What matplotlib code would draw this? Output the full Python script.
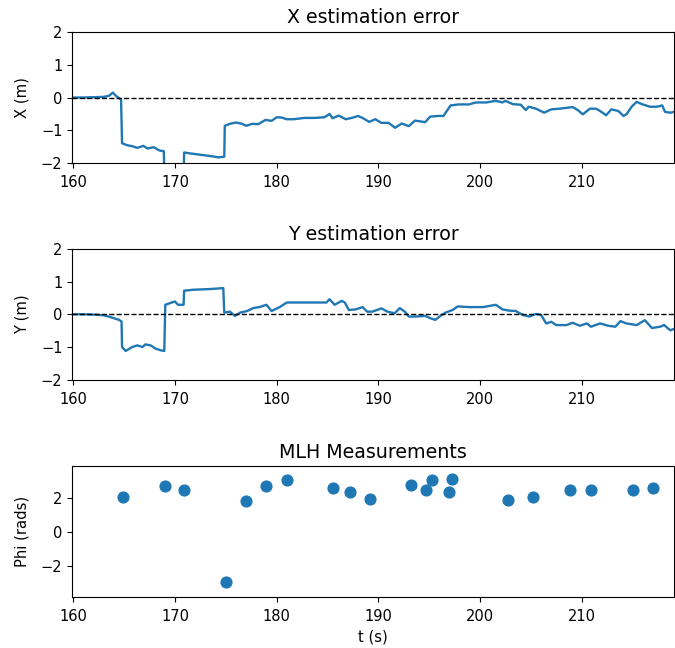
import matplotlib
matplotlib.use("Agg")
import matplotlib.pyplot as plt
import numpy as np

# X estimation error trace (time in s, error in m)
t_x = [160.0, 161.0, 162.0, 163.0, 163.5, 163.9, 164.2, 164.5, 164.7, 164.8, 165.3, 165.8, 166.3, 166.9,
       167.3, 167.9, 168.4, 168.6, 168.9, 169.0, 170.85, 170.9, 171.5, 172.5, 173.5, 174.3, 174.85, 174.9,
       175.4, 176.0, 176.6, 177.0, 177.6, 178.2, 178.9, 179.5, 180.0, 180.5, 181.0, 181.7, 182.7,
       183.7, 184.7, 185.2, 185.5, 186.1, 186.8, 187.4, 188.0, 188.5, 189.1, 189.7, 190.3, 191.0,
       191.65, 192.3, 193.0, 193.6, 194.6, 195.1, 195.9, 196.4, 197.1, 197.9, 198.9, 199.6, 200.6,
       201.55, 202.2, 202.5, 203.2, 204.0, 204.5, 204.8, 205.5, 206.3, 207.0, 207.8, 208.6, 209.1,
       209.6, 210.1, 210.8, 211.4, 211.8, 212.4, 212.9, 213.6, 214.1, 214.4, 214.9, 215.4, 215.9,
       216.7, 217.4, 217.9, 218.2, 218.7, 219.2]
x_err = [0.0, 0.0, 0.01, 0.02, 0.05, 0.15, 0.05, -0.02, -0.06, -1.39, -1.45, -1.48, -1.53, -1.47,
         -1.55, -1.51, -1.6, -1.62, -1.63, -2.6, -2.6, -1.67, -1.7, -1.74, -1.78, -1.82, -1.8, -0.86,
         -0.8, -0.76, -0.8, -0.86, -0.8, -0.81, -0.68, -0.71, -0.6, -0.61, -0.66, -0.66, -0.62,
         -0.62, -0.6, -0.5, -0.63, -0.55, -0.66, -0.62, -0.56, -0.63, -0.74, -0.66, -0.77, -0.77,
         -0.92, -0.79, -0.87, -0.7, -0.75, -0.58, -0.56, -0.56, -0.24, -0.21, -0.21, -0.15, -0.15,
         -0.1, -0.15, -0.1, -0.2, -0.22, -0.38, -0.28, -0.34, -0.46, -0.36, -0.34, -0.31, -0.29,
         -0.38, -0.51, -0.34, -0.34, -0.41, -0.54, -0.36, -0.41, -0.56, -0.51, -0.28, -0.13, -0.2,
         -0.28, -0.28, -0.24, -0.44, -0.46, -0.43]

# Y estimation error trace
t_y = [160.0, 161.0, 162.0, 163.0, 163.7, 164.5, 164.75, 164.8, 165.15, 165.8, 166.3, 166.8, 167.1,
       167.6, 168.1, 168.6, 168.95, 169.05, 169.5, 170.0, 170.3, 170.85, 170.9, 171.8, 173.4, 174.75,
       174.85, 175.4, 175.9, 176.4, 177.1, 177.7, 178.3, 179.0, 179.5, 180.3, 181.0, 182.3, 183.6,
       184.9, 185.2, 185.7, 186.4, 186.7, 187.1, 187.8, 188.45, 188.9, 189.4, 190.3, 190.9, 191.6,
       192.1, 192.6, 193.0, 193.6, 194.6, 195.1, 195.6, 196.1, 196.6, 197.3, 197.8, 198.9, 200.3,
       201.55, 202.2, 202.9, 203.5, 204.2, 204.85, 205.5, 206.0, 206.5, 207.0, 207.5, 208.5, 209.1,
       209.8, 210.5, 210.9, 211.8, 212.6, 213.3, 213.8, 214.4, 215.4, 216.2, 216.9, 217.7, 218.1,
       218.7, 219.2]
y_err = [0.0, 0.0, -0.01, -0.03, -0.09, -0.17, -0.22, -1.0, -1.12, -1.0, -0.95, -1.0, -0.92,
         -0.95, -1.05, -1.1, -1.12, 0.29, 0.34, 0.39, 0.29, 0.29, 0.72, 0.75, 0.77, 0.8,
         0.05, 0.08, -0.05, 0.05, 0.1, 0.19, 0.22, 0.29, 0.1, 0.22, 0.36, 0.36, 0.36,
         0.36, 0.46, 0.29, 0.41, 0.36, 0.13, 0.15, 0.22, 0.08, 0.08, 0.18, 0.08, 0.03,
         0.19, 0.08, -0.07, -0.07, -0.05, -0.12, -0.17, -0.05, 0.05, 0.13, 0.24, 0.22, 0.22,
         0.29, 0.15, 0.11, 0.1, -0.02, -0.07, 0.01, -0.02, -0.28, -0.23, -0.33, -0.33, -0.26,
         -0.35, -0.28, -0.38, -0.28, -0.35, -0.38, -0.21, -0.28, -0.33, -0.18, -0.42, -0.38, -0.33,
         -0.49, -0.43]

# MLH phase measurements
t_meas = [164.9, 169.0, 170.9, 175.0, 177.0, 179.0, 181.0, 185.5, 187.2, 189.2, 193.2,
          194.7, 195.3, 196.9, 197.2, 202.7, 205.2, 208.8, 210.9, 215.0, 217.0]
phi = [2.08, 2.69, 2.49, -2.96, 1.82, 2.71, 3.04, 2.57, 2.35, 1.96, 2.78,
       2.49, 3.04, 2.33, 3.10, 1.90, 2.04, 2.49, 2.49, 2.49, 2.57]

xlim = (159.9, 219.1)
xticks = [160, 170, 180, 190, 200, 210]

plt.rcParams.update({
    "xtick.labelsize": 10.5,
    "ytick.labelsize": 10.5,
    "axes.labelsize": 10.6,
    "axes.titlesize": 13.7,
    "xtick.major.pad": 5,
    "axes.labelpad": 8,
})

fig = plt.figure(figsize=(6.75, 6.48), dpi=100)
ax1 = fig.add_axes([0.107, 0.748, 0.892, 0.203])
ax2 = fig.add_axes([0.107, 0.414, 0.892, 0.202])
ax3 = fig.add_axes([0.107, 0.079, 0.892, 0.202])

ax1.plot(t_x, x_err, color="#1f77b4", lw=1.7)
ax1.axhline(0, color="black", ls="--", lw=1)
ax1.set_ylim(-2, 2)
ax1.set_yticks([-2, -1, 0, 1, 2])
ax1.set_ylabel("X (m)")
ax1.set_title("X estimation error")

ax2.plot(t_y, y_err, color="#1f77b4", lw=1.7)
ax2.axhline(0, color="black", ls="--", lw=1)
ax2.set_ylim(-2, 2)
ax2.set_yticks([-2, -1, 0, 1, 2])
ax2.set_ylabel("Y (m)")
ax2.set_title("Y estimation error")

ax3.scatter(t_meas, phi, color="#1f77b4", s=60)
ax3.set_ylim(-3.85, 3.9)
ax3.set_yticks([-2, 0, 2])
ax3.set_ylabel("Phi (rads)")
ax3.set_xlabel("t (s)", labelpad=4)
ax3.set_title("MLH Measurements")

for ax in (ax1, ax2, ax3):
    ax.set_xlim(*xlim)
    ax.set_xticks(xticks)

fig.savefig("out.png", dpi=100)
